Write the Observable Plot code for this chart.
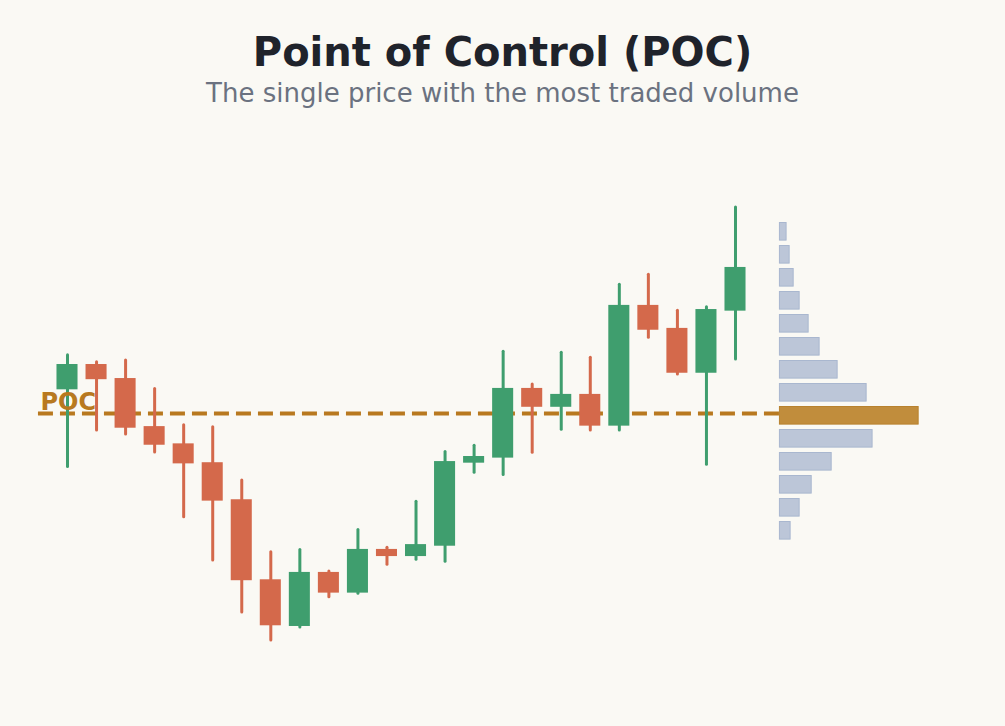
<!DOCTYPE html>
<html>
<head>
<meta charset="utf-8">
<script src="https://cdn.jsdelivr.net/npm/d3@7"></script>
<script src="https://cdn.jsdelivr.net/npm/@observablehq/plot@0.6"></script>
<style>
  html, body { margin: 0; padding: 0; background: #faf9f4; }
  body { width: 1005px; height: 726px; overflow: hidden; font-family: "DejaVu Sans", sans-serif; }
  #header { position: relative; height: 130px; }
  #title { position: absolute; left: 0; width: 1005px; top: 32px; text-align: center;
           font-size: 40px; line-height: 40px; font-weight: bold; color: #1f232b; }
  #subtitle { position: absolute; left: 0; width: 1005px; top: 80px; text-align: center;
              font-size: 26px; line-height: 26px; color: #6b7280; }
  #chart svg { display: block; }
</style>
</head>
<body>
<div id="header">
  <div id="title">Point of Control (POC)</div>
  <div id="subtitle">The single price with the most traded volume</div>
</div>
<div id="chart"></div>
<script>
// ---- Data ----
const opens  = [101.13, 102.23, 101.62, 99.53, 98.78, 97.96, 96.35, 92.87, 90.84, 93.19, 92.29, 94.19, 93.88, 94.33, 97.94, 98.16, 101.19, 100.37, 100.93, 99.55, 104.80, 103.80, 101.85, 104.55];
const highs  = [102.63, 102.33, 102.40, 101.16, 99.59, 99.50, 97.19, 94.07, 94.17, 93.23, 95.04, 94.26, 96.26, 98.43, 98.70, 102.78, 101.36, 102.74, 102.52, 105.70, 106.13, 104.57, 104.72, 109.06];
const lows   = [97.77, 99.36, 99.19, 98.40, 95.59, 93.71, 91.45, 90.23, 90.80, 92.11, 92.26, 93.52, 93.74, 93.65, 97.52, 97.43, 98.39, 99.39, 99.36, 99.36, 103.39, 101.80, 97.87, 102.45];
const closes = [102.23, 101.57, 99.46, 98.72, 97.91, 96.29, 92.83, 90.87, 93.19, 92.29, 94.19, 93.88, 94.40, 98.01, 98.23, 101.19, 100.37, 100.93, 99.55, 104.80, 103.72, 101.85, 104.62, 106.45];

const profilePrices  = [108, 107, 106, 105, 104, 103, 102, 101, 100, 99, 98, 97, 96, 95];
const profileVolumes = [48, 70, 99, 142, 207, 286, 416, 625, 1000, 668, 373, 229, 142, 77];

const pocPrice = 100.1;
const pocLabel = "POC";

// ---- Colours / layout ----
const UP = "#3f9e6e", DOWN = "#d4694b";
const POC_COLOR = "#b8791f";
const PROFILE_X0 = 24.53;     // profile starts right of last candle (index units)
const PROFILE_SPAN = 4.776;   // width of the largest profile bar (index units)

const candles = opens.map((o, i) => ({
  i, open: o, high: highs[i], low: lows[i], close: closes[i],
  up: closes[i] >= o
}));
const maxVol = d3.max(profileVolumes);
const profile = profilePrices.map((p, k) => ({
  price: p, vol: profileVolumes[k], poc: profileVolumes[k] === maxVol
}));

const chart = Plot.plot({
  width: 1005,
  height: 596,
  marginTop: 0, marginBottom: 0, marginLeft: 0, marginRight: 0,
  style: { background: "transparent", fontFamily: "DejaVu Sans, sans-serif" },
  x: { type: "linear", domain: [0, 23], range: [67, 735], axis: null },
  y: { type: "linear", domain: [90, 110], range: [515.3, 55.3], axis: null },
  marks: [
    // POC dashed line
    Plot.ruleY([pocPrice], {
      x1: -1, x2: PROFILE_X0, stroke: POC_COLOR, strokeWidth: 4, strokeDasharray: "15,7"
    }),
    // wicks
    Plot.ruleX(candles, {
      x: "i", y1: "low", y2: "high",
      stroke: d => d.up ? UP : DOWN, strokeWidth: 3, strokeLinecap: "round"
    }),
    // bodies
    Plot.rect(candles, {
      x1: d => d.i - 0.5, x2: d => d.i + 0.5, insetLeft: 4, insetRight: 4,
      y1: "open", y2: "close",
      fill: d => d.up ? UP : DOWN
    }),
    // volume profile
    Plot.rect(profile, {
      x1: () => PROFILE_X0,
      x2: d => PROFILE_X0 + d.vol / maxVol * PROFILE_SPAN,
      y1: d => d.price - 0.5, y2: d => d.price + 0.5,
      insetTop: 2.7, insetBottom: 2.7,
      fill: d => d.poc ? "#c18d3c" : "#bcc6d8",
      stroke: d => d.poc ? "#b8822e" : "#a9b7cf",
      strokeWidth: 1
    }),
    // POC label
    Plot.text([pocLabel], {
      x: () => -1, y: () => pocPrice, text: d => d,
      textAnchor: "start", lineAnchor: "bottom", dx: 2, dy: -4,
      fill: POC_COLOR, fontSize: 24, fontWeight: "bold"
    })
  ]
});
document.getElementById("chart").appendChild(chart);
</script>
</body>
</html>
